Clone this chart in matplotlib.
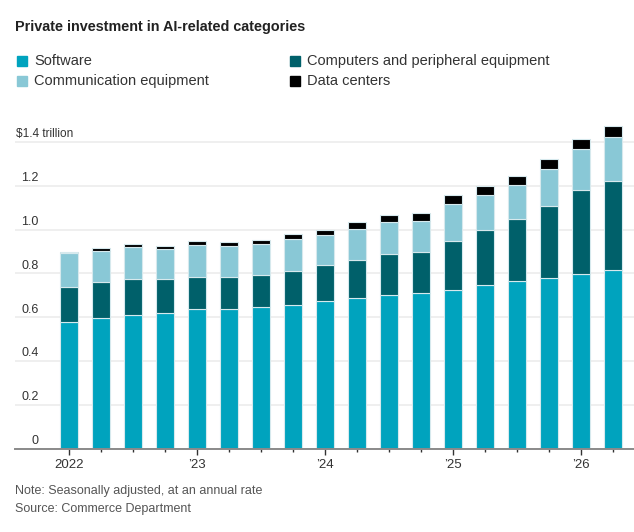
import matplotlib.pyplot as plt
from matplotlib.patches import Rectangle
import numpy as np

plt.rcParams['font.family'] = ['Liberation Sans Narrow', 'Liberation Sans', 'DejaVu Sans']

# quarterly values, $ trillion, seasonally adjusted annual rate
quarters = ['2022Q1', '2022Q2', '2022Q3', '2022Q4', '2023Q1', '2023Q2', '2023Q3', '2023Q4',
            '2024Q1', '2024Q2', '2024Q3', '2024Q4', '2025Q1', '2025Q2', '2025Q3', '2025Q4',
            '2026Q1', '2026Q2']
software = [0.577, 0.598, 0.612, 0.621, 0.639, 0.639, 0.648, 0.658, 0.672,
            0.689, 0.703, 0.712, 0.726, 0.749, 0.767, 0.781, 0.799, 0.817]
computers = [0.163, 0.161, 0.164, 0.155, 0.146, 0.146, 0.146, 0.154, 0.168,
             0.174, 0.185, 0.185, 0.222, 0.249, 0.281, 0.326, 0.381, 0.404]
communication = [0.151, 0.145, 0.146, 0.137, 0.146, 0.140, 0.140, 0.146, 0.136,
                 0.139, 0.146, 0.142, 0.168, 0.158, 0.155, 0.169, 0.187, 0.200]
data_centers = [0.006, 0.012, 0.012, 0.012, 0.017, 0.018, 0.018, 0.022, 0.022,
                0.031, 0.031, 0.035, 0.040, 0.041, 0.039, 0.045, 0.045, 0.051]
year_labels = ['2022', '\u201923', '\u201924', '\u201925', '\u201926']
y_ticks = [0, 0.2, 0.4, 0.6, 0.8, 1.0, 1.2, 1.4]
y_labels = ['0', '0.2', '0.4', '0.6', '0.8', '1.0', '1.2', '$1.4 trillion']

series = [('Software', software, '#00a3be'),
          ('Computers and peripheral equipment', computers, '#00606a'),
          ('Communication equipment', communication, '#89c8d6'),
          ('Data centers', data_centers, '#000000')]

W, H = 634, 532
fig = plt.figure(figsize=(W / 100, H / 100), dpi=100)
ax = fig.add_axes([15 / W, (H - 449) / H, 1 - 15 / W, (449 - 119.75) / H])

x = np.arange(len(quarters))
bottom = np.zeros(len(quarters))
for name, vals, col in series:
    ax.bar(x, vals, width=0.56, bottom=bottom, color=col,
           edgecolor='#d6e9ed', linewidth=0.8, zorder=3)
    bottom += np.array(vals)

ax.set_xlim((15 - 69) / 32, (634 - 69) / 32)
ax.set_ylim(0, 1.5)

for t in y_ticks:
    ax.axhline(t, color='#eeeeee', lw=1.3, zorder=1)
for t, lab in zip(y_ticks, y_labels):
    if t == 1.4:
        ax.text(1 / 619, t + 0.008, lab, transform=ax.get_yaxis_transform(),
                ha='left', va='bottom', fontsize=8.5, color='#333333')
    else:
        ax.text(23.5 / 619, t + 0.008, lab, transform=ax.get_yaxis_transform(),
                ha='right', va='bottom', fontsize=9, color='#333333')

for s in ['top', 'right', 'left']:
    ax.spines[s].set_visible(False)
ax.spines['bottom'].set_color('#8a8a8a')
ax.spines['bottom'].set_linewidth(1.4)
ax.spines['bottom'].set_zorder(4)
ax.set_yticks([])

year_pos = [i for i, q in enumerate(quarters) if q.endswith('Q1')]
ax.set_xticks(year_pos)
ax.set_xticklabels(year_labels, fontsize=9.5, color='#333333')
ax.set_xticks(x, minor=True)
ax.tick_params(axis='x', which='major', length=4, width=1, color='#333333', pad=3)
ax.tick_params(axis='x', which='minor', length=2.5, width=1, color='#333333')

fig.text(15 / W, 1 - 27 / H, 'Private investment in AI-related categories',
         fontsize=10.4, fontweight='bold', color='#222222', va='center')

legend_pos = [(17, 61), (290, 61), (17, 81), (290, 81)]
for (px, py), (name, vals, col) in zip(legend_pos, series):
    fig.patches.append(Rectangle((px / W, 1 - (py + 5) / H), 10 / W, 10 / H,
                                 transform=fig.transFigure, color=col))
    fig.text((px + 17) / W, 1 - py / H, name, fontsize=10.5, color='#333333', va='center')

fig.text(15 / W, 1 - 491 / H, 'Note: Seasonally adjusted, at an annual rate',
         fontsize=9, color='#555555', va='center')
fig.text(15 / W, 1 - 509 / H, 'Source: Commerce Department',
         fontsize=9, color='#555555', va='center')

fig.savefig('out.png', dpi=100)
